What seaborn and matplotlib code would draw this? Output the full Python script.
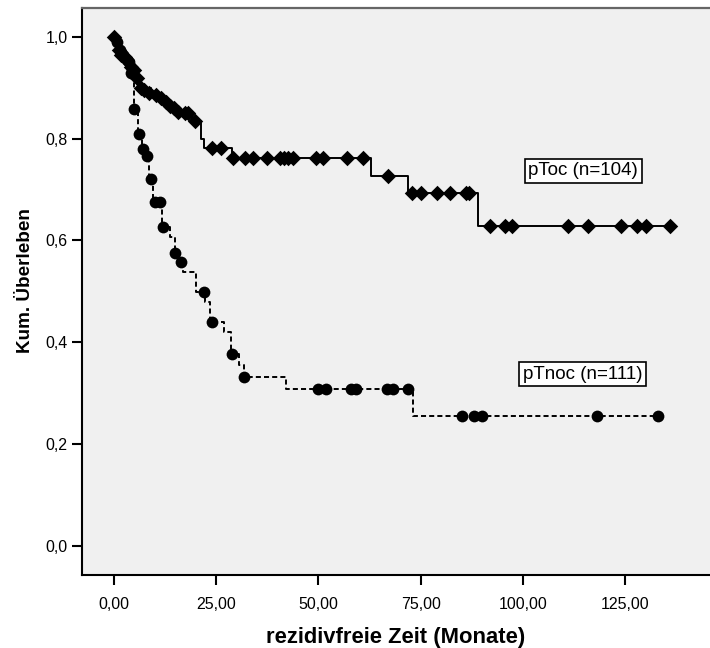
import numpy as np
import pandas as pd
import matplotlib
matplotlib.use("Agg")
import matplotlib.pyplot as plt
import seaborn as sns

# ---- data ----
# pToc: Kaplan-Meier step function (time, survival)
toc_time = [0, 1.0, 2.0, 3.0, 4.0, 5.5, 6.5, 9.0, 11.0, 12.5, 14.0, 15.0, 19.0, 21.2, 22.1, 28.9, 62.8, 72.0, 88.9, 135.9]
toc_surv = [1.0, 0.98, 0.97, 0.96, 0.94, 0.92, 0.90, 0.89, 0.88, 0.87, 0.86, 0.85, 0.835, 0.80, 0.782, 0.763, 0.727, 0.693, 0.628, 0.628]
# pToc censored observations
toc_cens_t = [0, 1.2, 1.8, 2.8, 3.2, 4.2, 4.8, 5.6, 6.6, 7.3, 8.6, 10.2, 11.5, 12.7, 13.6, 14.6, 15.6, 17.4, 18.2, 19.8,
              23.9, 26.1, 29.0, 32.0, 34.1, 37.5, 40.6, 41.6, 42.6, 43.8, 49.5, 51.1, 56.9, 61.0,
              67.1, 72.8, 75.0, 79.0, 82.2, 86.1, 86.9,
              91.9, 95.6, 97.2, 111.1, 116.0, 123.9, 127.8, 130.1, 135.9]
toc_cens_s = [1.0, 0.975, 0.965, 0.96, 0.955, 0.94, 0.935, 0.92, 0.90, 0.895, 0.89, 0.885, 0.88, 0.872, 0.865, 0.86, 0.852, 0.85, 0.85, 0.835,
              0.782, 0.782, 0.763, 0.763, 0.763, 0.763, 0.763, 0.763, 0.763, 0.763, 0.763, 0.763, 0.763, 0.763,
              0.727, 0.693, 0.693, 0.693, 0.693, 0.693, 0.693,
              0.628, 0.628, 0.628, 0.628, 0.628, 0.628, 0.628, 0.628, 0.628]

# pTnoc: Kaplan-Meier step function (time, survival)
tnoc_time = [0, 1.0, 2.0, 3.0, 4.0, 4.8, 5.8, 6.8, 7.6, 8.5, 9.6, 11.8, 13.7, 14.9, 16.0, 16.9, 20.0, 22.3, 23.4, 26.9, 28.5, 30.6, 31.8, 42.0, 73.0, 132.9]
tnoc_surv = [1.0, 0.98, 0.97, 0.955, 0.93, 0.86, 0.81, 0.78, 0.765, 0.72, 0.676, 0.626, 0.607, 0.576, 0.558, 0.538, 0.499, 0.479, 0.439, 0.419, 0.376, 0.354, 0.331, 0.307, 0.255, 0.255]
# pTnoc censored observations
tnoc_cens_t = [0.8, 1.5, 2.3, 3.2, 3.6, 4.2, 5.0, 6.1, 7.0, 8.0, 9.0, 10.0, 11.2, 12.1, 15.0, 16.5, 22.0, 24.0, 28.9, 31.9,
               49.8, 51.9, 57.9, 59.2, 66.8, 68.3, 72.0, 85.0, 88.1, 90.0, 118.0, 132.9]
tnoc_cens_s = [0.99, 0.975, 0.965, 0.955, 0.95, 0.93, 0.858, 0.81, 0.78, 0.765, 0.721, 0.676, 0.676, 0.626, 0.576, 0.558, 0.499, 0.439, 0.376, 0.331,
               0.307, 0.307, 0.307, 0.307, 0.307, 0.307, 0.307, 0.255, 0.255, 0.255, 0.255, 0.255]

group_labels = ["pToc (n=104)", "pTnoc (n=111)"]
x_ticks = [0, 25, 50, 75, 100, 125]
x_tick_labels = ["0,00", "25,00", "50,00", "75,00", "100,00", "125,00"]
y_ticks = [0.0, 0.2, 0.4, 0.6, 0.8, 1.0]
y_tick_labels = ["0,0", "0,2", "0,4", "0,6", "0,8", "1,0"]
x_label = "rezidivfreie Zeit (Monate)"
y_label = "Kum. Überleben"

# ---- plotting ----
sns.set_theme(style="white")
plt.rcParams["font.family"] = ["Liberation Sans", "DejaVu Sans"]

W, H = 710, 648
fig = plt.figure(figsize=(W / 100, H / 100), dpi=100)
ax = fig.add_axes([82 / W, 73 / H, 628 / W, 567 / H])
ax.set_facecolor("#f0f0f0")

toc_line = pd.DataFrame({"t": toc_time, "s": toc_surv})
tnoc_line = pd.DataFrame({"t": tnoc_time, "s": tnoc_surv})
toc_c = pd.DataFrame({"t": toc_cens_t, "s": toc_cens_s})
tnoc_c = pd.DataFrame({"t": tnoc_cens_t, "s": tnoc_cens_s})

sns.lineplot(data=tnoc_line, x="t", y="s", drawstyle="steps-post", estimator=None, sort=False,
             color="black", lw=1.4, linestyle=(0, (2.6, 1.6)), ax=ax)
sns.lineplot(data=toc_line, x="t", y="s", drawstyle="steps-post", estimator=None, sort=False,
             color="black", lw=1.4, ax=ax)
sns.scatterplot(data=tnoc_c, x="t", y="s", marker="o", s=72, color="black", edgecolor="black", linewidth=0, ax=ax, zorder=3)
sns.scatterplot(data=toc_c, x="t", y="s", marker="D", s=62, color="black", edgecolor="black", linewidth=0, ax=ax, zorder=3)

ax.set_xlim(-7.8, 145.7)
ax.set_ylim(-0.058, 1.057)
ax.set_xticks(x_ticks)
ax.set_xticklabels(x_tick_labels)
ax.set_yticks(y_ticks)
ax.set_yticklabels(y_tick_labels)
ax.tick_params(axis="both", direction="out", length=7, width=1.5, color="black",
               labelsize=11.5, labelcolor="black", pad=3.5, left=True, bottom=True)
ax.tick_params(axis="x", pad=9)

for side in ["left", "bottom"]:
    ax.spines[side].set_color("black")
    ax.spines[side].set_linewidth(1.5)
ax.spines["top"].set_color("#666666")
ax.spines["top"].set_linewidth(1.6)
ax.spines["right"].set_visible(False)

ax.set_xlabel(x_label, fontsize=15.8, fontweight="bold", color="black")
ax.xaxis.label.set_va("baseline")
ax.set_ylabel(y_label, fontsize=13.6, fontweight="bold", color="black")
ax.xaxis.set_label_coords(0.5, -0.1199)
ax.yaxis.set_label_coords(-0.076, 0.52)

box = dict(boxstyle="square,pad=0.2", fc="white", ec="black", lw=1.2)
ax.text(114.7, 0.7365, group_labels[0], fontsize=13.5, ha="center", va="center", bbox=box, color="black")
ax.text(114.6, 0.337, group_labels[1], fontsize=13.5, ha="center", va="center", bbox=box, color="black")

fig.savefig("out.png", dpi=100, facecolor="white")
